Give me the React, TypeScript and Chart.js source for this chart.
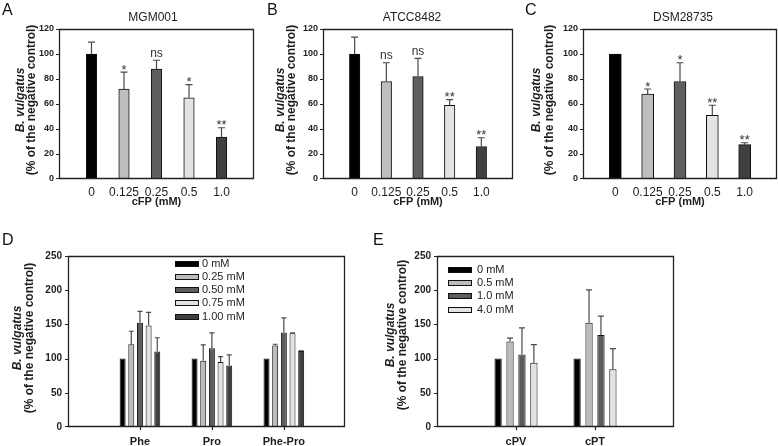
import React, { useEffect, useRef } from 'react';
import { Chart, registerables } from 'chart.js';

Chart.register(...registerables);

const FONT = '"Liberation Sans", Arial, Helvetica, sans-serif';
Chart.defaults.font.family = FONT;
const INK = '#1e1e1e';

// ---------- Panels A–C : cFP dose response ----------
const cfpDoses = ['0', '0.125', '0.25', '0.5', '1.0'];
const cfpColors = ['#000000', '#bebebe', '#5f5f5f', '#e3e3e3', '#404040'];
const cfpYTicksMax = 120;
const cfpYTickStep = 20;

const mgm001Values = [100, 72, 88, 65, 33.5];
const mgm001ErrTop = [109.5, 85.5, 95, 75.5, 41];
const mgm001Sig = ['', '*', 'ns', '*', '**'];

const atcc8482Values = [100, 78, 82, 59, 26];
const atcc8482ErrTop = [113.5, 93, 96.5, 63.5, 33];
const atcc8482Sig = ['', 'ns', 'ns', '**', '**'];

const dsm28735Values = [100, 68, 78, 51, 27.5];
const dsm28735ErrTop = [100, 72, 93, 59, 29];
const dsm28735Sig = ['', '*', '*', '**', '**'];

// ---------- Panel D : amino acids ----------
const aaGroups = ['Phe', 'Pro', 'Phe-Pro'];
const aaConcs = ['0 mM', '0.25 mM', '0.50 mM', '0.75 mM', '1.00 mM'];
const aaColors = ['#000000', '#bcbcbc', '#5c5c5c', '#e2e2e2', '#3e3e3e'];
const aa0mM = [100, 100, 100];
const aa025mM = [121, 97, 119];
const aa050mM = [152.5, 115, 138];
const aa075mM = [148.5, 95, 137];
const aa100mM = [110.5, 90, 111];
const aa0mMErrTop = [100, 100, 100];
const aa025mMErrTop = [140, 120, 121];
const aa050mMErrTop = [169, 137.5, 159.5];
const aa075mMErrTop = [167.5, 103, 137.5];
const aa100mMErrTop = [130.5, 105.5, 111.5];

// ---------- Panel E : cyclic dipeptides ----------
const cdpGroups = ['cPV', 'cPT'];
const cdpConcs = ['0 mM', '0.5 mM', '1.0 mM', '4.0 mM'];
const cdpColors = ['#000000', '#bcbcbc', '#5c5c5c', '#e2e2e2'];
const cdp0mM = [100, 100];
const cdp05mM = [125, 152.5];
const cdp10mM = [106, 134.5];
const cdp40mM = [94, 84.5];
const cdp0mMErrTop = [100, 100];
const cdp05mMErrTop = [130, 200.5];
const cdp10mMErrTop = [145, 162];
const cdp40mMErrTop = [120.5, 114.5];

const lowerYMax = 250;
const lowerYStep = 50;

const Y_TITLE_1 = 'B. vulgatus';
const Y_TITLE_2 = '(% of the negative control)';

type Box = { x: number; y: number; w: number; h: number };
type Plot = { l: number; t: number; r: number; b: number };

type PanelCfg = {
  id: string;
  box: Box;
  plot: Plot;
  xLabels: string[];
  xMin: number;
  xMax: number;
  xTickFont: any;
  xTickPad: number;
  xTickMarks: boolean;
  xTitle?: string;
  yMax: number;
  yStep: number;
  yTickFont: any;
  yTickPad: number;
  xh: number;
  datasets: any[];
  errTops: number[][];
  capHalf: number;
  sig?: string[];
  title?: { text: string; x: number; y: number };
  letter: { text: string; x: number; y: number };
  yTitle: { x1: number; x2: number; y: number };
  legend?: { x: number; w: number; h: number; y0: number; dy: number; tx: number; items: { label: string; color: string }[] };
};

const YW = 30;

function toXY(vals: number[]) {
  return vals.map((v, i) => ({ x: i, y: v }));
}

function decorPlugin(cfg: PanelCfg) {
  const ox = cfg.box.x;
  const oy = cfg.box.y;
  return {
    id: 'decor_' + cfg.id,
    afterDatasetsDraw(chart: any) {
      const ctx = chart.ctx;
      const ys = chart.scales.y;
      ctx.save();
      // error bars
      cfg.errTops.forEach((errs, di) => {
        const meta = chart.getDatasetMeta(di);
        meta.data.forEach((el: any, i: number) => {
          const top = errs[i];
          const val = chart.data.datasets[di].data[i].y;
          if (top == null || top <= val + 0.2) return;
          const y1 = ys.getPixelForValue(top);
          ctx.strokeStyle = '#4a4a4a';
          ctx.lineWidth = 1.2;
          ctx.beginPath();
          ctx.moveTo(el.x, el.y);
          ctx.lineTo(el.x, y1);
          ctx.moveTo(el.x - cfg.capHalf, y1);
          ctx.lineTo(el.x + cfg.capHalf, y1);
          ctx.stroke();
        });
      });
      // significance marks
      if (cfg.sig) {
        const meta = chart.getDatasetMeta(0);
        cfg.sig.forEach((s, i) => {
          if (!s) return;
          const el = meta.data[i];
          const capY = ys.getPixelForValue(Math.max(cfg.errTops[0][i], chart.data.datasets[0].data[i].y));
          const star = s.startsWith('*');
          ctx.fillStyle = '#333';
          ctx.font = `${star ? 13 : 12}px ${FONT}`;
          ctx.textAlign = 'center';
          ctx.textBaseline = 'alphabetic';
          ctx.fillText(s, el.x, star ? capY + 1.5 : capY - 3.5);
        });
      }
      ctx.restore();
    },
    afterDraw(chart: any) {
      const ctx = chart.ctx;
      const ys = chart.scales.y;
      const xs = chart.scales.x;
      const a = chart.chartArea;
      ctx.save();
      // plot frame
      const L = Math.round(a.left);
      const R = Math.round(a.right);
      const T = Math.round(a.top);
      const B = Math.round(a.bottom);
      ctx.strokeStyle = '#222';
      ctx.lineWidth = 1.3;
      ctx.setLineDash([]);
      ctx.beginPath();
      ctx.moveTo(L + 0.5, T + 0.5);
      ctx.lineTo(R - 0.5, T + 0.5);
      ctx.lineTo(R - 0.5, B - 0.5);
      ctx.lineTo(L + 0.5, B - 0.5);
      ctx.closePath();
      ctx.stroke();
      // y tick marks
      ctx.lineWidth = 1.2;
      ctx.beginPath();
      ys.ticks.forEach((t: any) => {
        const py = Math.round(ys.getPixelForValue(t.value)) + 0.5;
        const yy = Math.min(Math.max(py, T + 0.5), B - 0.5);
        ctx.moveTo(L - 3, yy);
        ctx.lineTo(L + 0.5, yy);
      });
      // x tick marks
      if (cfg.xTickMarks) {
        cfg.xLabels.forEach((_, i) => {
          const px = Math.round(xs.getPixelForValue(i)) + 0.5;
          ctx.moveTo(px, B - 0.5);
          ctx.lineTo(px, B + 3);
        });
      }
      ctx.stroke();

      // panel letter
      ctx.fillStyle = '#111';
      ctx.font = `16px ${FONT}`;
      ctx.textAlign = 'left';
      ctx.textBaseline = 'alphabetic';
      ctx.fillText(cfg.letter.text, cfg.letter.x - ox, cfg.letter.y - oy);
      // title
      if (cfg.title) {
        ctx.fillStyle = INK;
        ctx.font = `12px ${FONT}`;
        ctx.textAlign = 'center';
        ctx.textBaseline = 'middle';
        ctx.fillText(cfg.title.text, cfg.title.x - ox, cfg.title.y - oy);
      }
      // y titles
      const drawRot = (text: string, x: number, y: number, font: string) => {
        ctx.save();
        ctx.translate(x - ox, y - oy);
        ctx.rotate(-Math.PI / 2);
        ctx.font = font;
        ctx.fillStyle = INK;
        ctx.textAlign = 'center';
        ctx.textBaseline = 'middle';
        ctx.fillText(text, 0, 0);
        ctx.restore();
      };
      drawRot(Y_TITLE_1, cfg.yTitle.x1, cfg.yTitle.y, `italic bold 12px ${FONT}`);
      drawRot(Y_TITLE_2, cfg.yTitle.x2, cfg.yTitle.y, `bold 12px ${FONT}`);
      // legend
      if (cfg.legend) {
        const Lg = cfg.legend;
        Lg.items.forEach((it, k) => {
          const cy = Math.round(Lg.y0 + k * Lg.dy - oy);
          const sx = Math.round(Lg.x - ox);
          const sy = Math.round(cy - Lg.h / 2);
          ctx.fillStyle = '#111';
          ctx.fillRect(sx, sy, Lg.w, Lg.h);
          ctx.fillStyle = it.color;
          ctx.fillRect(sx + 1, sy + 1, Lg.w - 2, Lg.h - 2);
          ctx.fillStyle = INK;
          ctx.font = `11px ${FONT}`;
          ctx.textAlign = 'left';
          ctx.textBaseline = 'middle';
          ctx.fillText(it.label, Lg.tx - ox, cy);
        });
      }
      ctx.restore();
    },
  };
}

function buildConfig(cfg: PanelCfg): any {
  const { box, plot } = cfg;
  return {
    type: 'bar',
    data: { datasets: cfg.datasets },
    plugins: [decorPlugin(cfg)],
    options: {
      responsive: false,
      animation: false,
      events: [],
      layout: {
        padding: {
          left: plot.l - box.x - YW,
          top: plot.t - box.y,
          right: box.x + box.w - plot.r,
          bottom: box.y + box.h - plot.b - cfg.xh,
        },
      },
      plugins: { legend: { display: false }, tooltip: { enabled: false }, title: { display: false } },
      scales: {
        x: {
          type: 'linear',
          bounds: 'data',
          offset: false,
          min: cfg.xMin,
          max: cfg.xMax,
          afterBuildTicks: (s: any) => {
            s.ticks = cfg.xLabels.map((_, i) => ({ value: i }));
          },
          afterFit: (s: any) => {
            s.height = cfg.xh;
          },
          ticks: {
            autoSkip: false,
            maxRotation: 0,
            minRotation: 0,
            padding: cfg.xTickPad,
            font: cfg.xTickFont,
            color: INK,
            callback: (v: number) => cfg.xLabels[Math.round(v)] ?? '',
          },
          grid: { display: false, drawTicks: false, offset: false },
          border: { display: false },
          title: cfg.xTitle
            ? { display: true, text: cfg.xTitle, color: INK, font: { size: 11, weight: 'bold' }, padding: { top: 0, bottom: 6 } }
            : { display: false },
        },
        y: {
          min: 0,
          max: cfg.yMax,
          afterFit: (s: any) => {
            s.width = YW;
          },
          ticks: { stepSize: cfg.yStep, font: cfg.yTickFont, color: INK, padding: cfg.yTickPad },
          grid: { display: false, drawTicks: true, tickLength: 3 },
          border: { display: false },
        },
      },
    },
  };
}

function cfpPanel(
  id: string,
  box: Box,
  plot: Plot,
  values: number[],
  errTop: number[],
  sig: string[],
  title: { text: string; x: number; y: number },
  letter: { text: string; x: number; y: number },
  yTitle: { x1: number; x2: number; y: number },
  barThickness: number
): PanelCfg {
  return {
    id,
    box,
    plot,
    xLabels: cfpDoses,
    xMin: -1,
    xMax: 5,
    xTickFont: { size: 12 },
    xTickPad: 6,
    xTickMarks: false,
    xTitle: 'cFP (mM)',
    yMax: cfpYTicksMax,
    yStep: cfpYTickStep,
    yTickFont: { size: 9, weight: 'bold' },
    yTickPad: 2,
    xh: box.y + box.h - plot.b,
    datasets: [
      {
        data: toXY(values),
        backgroundColor: cfpColors,
        borderColor: '#111',
        borderWidth: 1,
        barThickness,
      },
    ],
    errTops: [errTop],
    capHalf: 3.5,
    sig,
    title,
    letter,
    yTitle,
  };
}

const panelA = cfpPanel('A', { x: 0, y: 0, w: 258, h: 215 }, { l: 59, t: 29, r: 254, b: 179 },
  mgm001Values, mgm001ErrTop, mgm001Sig, { text: 'MGM001', x: 153, y: 18 }, { text: 'A', x: 2, y: 15 },
  { x1: 21, x2: 32, y: 100 }, 10.5);
const panelB = cfpPanel('B', { x: 258, y: 0, w: 258, h: 215 }, { l: 323, t: 29, r: 513, b: 179 },
  atcc8482Values, atcc8482ErrTop, atcc8482Sig, { text: 'ATCC8482', x: 412, y: 18 }, { text: 'B', x: 267, y: 15 },
  { x1: 281, x2: 292, y: 100 }, 10.5);
const panelC = cfpPanel('C', { x: 516, y: 0, w: 262, h: 215 }, { l: 583, t: 29, r: 777, b: 179 },
  dsm28735Values, dsm28735ErrTop, dsm28735Sig, { text: 'DSM28735', x: 683, y: 18 }, { text: 'C', x: 525, y: 15 },
  { x1: 537, x2: 550, y: 100 }, 12);

const aaSeries = [aa0mM, aa025mM, aa050mM, aa075mM, aa100mM];
const aaErrs = [aa0mMErrTop, aa025mMErrTop, aa050mMErrTop, aa075mMErrTop, aa100mMErrTop];

const panelD: PanelCfg = {
  id: 'D',
  box: { x: 0, y: 222, w: 372, h: 224 },
  plot: { l: 68, t: 256, r: 345, b: 427 },
  xLabels: aaGroups,
  xMin: -1,
  xMax: 2.85,
  xTickFont: { size: 11, weight: 'bold' },
  xTickPad: 8,
  xTickMarks: true,
  yMax: lowerYMax,
  yStep: lowerYStep,
  yTickFont: { size: 10, weight: 'bold' },
  yTickPad: 3,
  xh: 19,
  datasets: aaConcs.map((label, k) => ({
    label,
    data: toXY(aaSeries[k]),
    backgroundColor: aaColors[k],
    borderColor: '#111',
    borderWidth: 1,
    categoryPercentage: 0.602,
    barPercentage: 0.69,
  })),
  errTops: aaErrs,
  capHalf: 2.5,
  letter: { text: 'D', x: 2, y: 245 },
  yTitle: { x1: 18, x2: 30, y: 338 },
  legend: {
    x: 175, w: 24, h: 6, y0: 264.3, dy: 13.05, tx: 202,
    items: aaConcs.map((label, k) => ({ label, color: aaColors[k] })),
  },
};

const cdpSeries = [cdp0mM, cdp05mM, cdp10mM, cdp40mM];
const cdpErrs = [cdp0mMErrTop, cdp05mMErrTop, cdp10mMErrTop, cdp40mMErrTop];

const panelE: PanelCfg = {
  id: 'E',
  box: { x: 372, y: 222, w: 406, h: 224 },
  plot: { l: 437, t: 256, r: 674, b: 427 },
  xLabels: cdpGroups,
  xMin: -1,
  xMax: 2,
  xTickFont: { size: 11, weight: 'bold' },
  xTickPad: 8,
  xTickMarks: true,
  yMax: lowerYMax,
  yStep: lowerYStep,
  yTickFont: { size: 10, weight: 'bold' },
  yTickPad: 3,
  xh: 19,
  datasets: cdpConcs.map((label, k) => ({
    label,
    data: toXY(cdpSeries[k]),
    backgroundColor: cdpColors[k],
    borderColor: '#111',
    borderWidth: 1,
    categoryPercentage: 0.604,
    barPercentage: 0.61,
  })),
  errTops: cdpErrs,
  capHalf: 3,
  letter: { text: 'E', x: 373, y: 245 },
  yTitle: { x1: 391, x2: 403, y: 335 },
  legend: {
    x: 448, w: 24, h: 6, y0: 270, dy: 13.2, tx: 477,
    items: cdpConcs.map((label, k) => ({ label, color: cdpColors[k] })),
  },
};

const panels = [panelA, panelB, panelC, panelD, panelE];

function Panel({ cfg }: { cfg: PanelCfg }) {
  const ref = useRef<HTMLCanvasElement | null>(null);
  useEffect(() => {
    if (!ref.current) return;
    const chart = new Chart(ref.current, buildConfig(cfg));
    return () => chart.destroy();
  }, [cfg]);
  return (
    <canvas
      ref={ref}
      width={cfg.box.w}
      height={cfg.box.h}
      style={{ position: 'absolute', left: cfg.box.x, top: cfg.box.y, width: cfg.box.w, height: cfg.box.h }}
    />
  );
}

export default function App() {
  return (
    <div
      style={{
        position: 'fixed',
        left: 0,
        top: 0,
        width: 778,
        height: 446,
        background: '#ffffff',
        overflow: 'hidden',
      }}
    >
      {panels.map((p) => (
        <Panel key={p.id} cfg={p} />
      ))}
    </div>
  );
}
